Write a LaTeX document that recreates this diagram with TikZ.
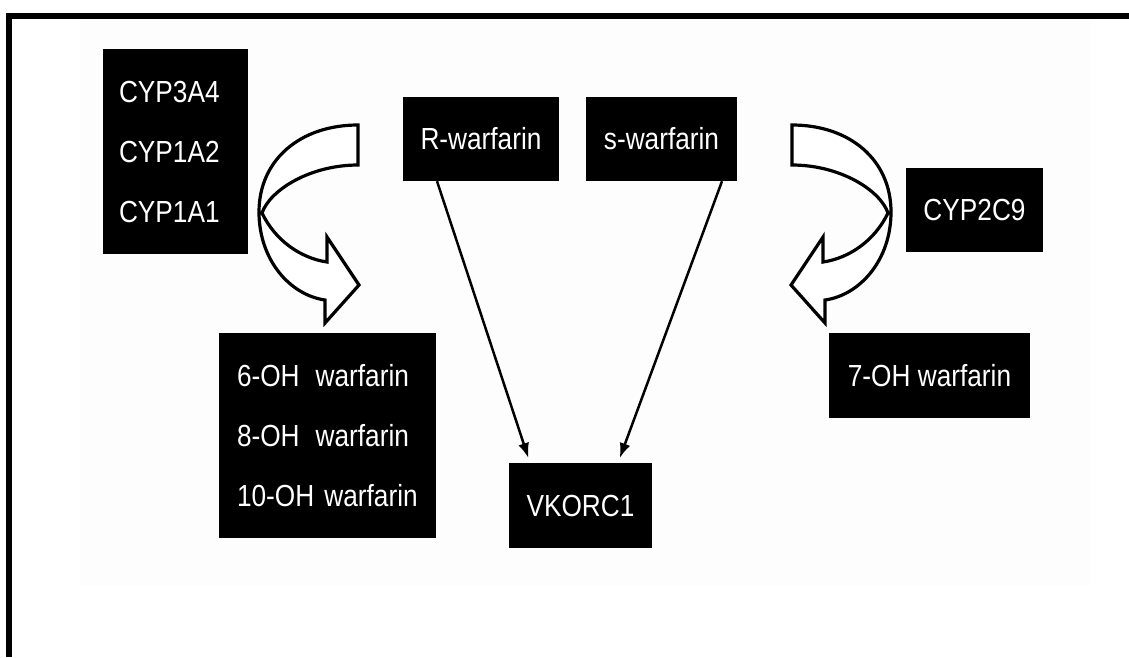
\documentclass[tikz,border=0pt]{standalone}
\usepackage{fontspec}
\setmainfont[FakeStretch=0.86]{Liberation Sans}
\usetikzlibrary{arrows.meta}
\begin{document}
\begin{tikzpicture}[x=1pt,y=-1pt,
  blackbox/.style={fill=black,text=white,inner sep=0pt,align=left,
    font=\fontsize{30.5}{60}\selectfont},
  conn/.style={line width=2.5pt,-{Latex[length=15pt,width=11pt]},shorten >=5pt},
  turnarrow/.style={draw=black,fill=white,line width=3.2pt,line join=miter}
]
\useasboundingbox (0,0) rectangle (1129,657);
\fill[white] (0,0) rectangle (1129,657);
% faint background panel
\fill[black!0.6] (80,19) rectangle (1090,585);
% frame (top and left only)
\fill[black] (6,13) rectangle (1129,19);
\fill[black] (6,13) rectangle (12,657);

% boxes
\node[blackbox,minimum width=145pt,minimum height=205pt,inner xsep=16pt,text width=113pt] (cyp) at (175.5,151.5)
  {CYP3A4\\CYP1A2\\CYP1A1};
\node[blackbox,minimum width=156pt,minimum height=84pt] (R) at (481,139) {R-warfarin};
\node[blackbox,minimum width=151pt,minimum height=84pt] (S) at (661.5,139) {s-warfarin};
\node[blackbox,minimum width=137pt,minimum height=84pt] (c29) at (974.5,210) {CYP2C9};
\node[blackbox,minimum width=201pt,minimum height=85pt] (oh7) at (929.5,375.5) {7-OH warfarin};
\node[blackbox,minimum width=217pt,minimum height=205pt,inner xsep=18pt,text width=181pt] (oh) at (327.5,435.5)
  {6-OH\hspace{16pt}warfarin\\8-OH\hspace{16pt}warfarin\\10-OH warfarin};
\node[blackbox,minimum width=143pt,minimum height=85pt] (vk) at (580.5,505.5) {VKORC1};

% connectors
\draw[conn] ([xshift=-44pt]R.south) -- ([xshift=-50.5pt]vk.north);
\draw[conn] ([xshift=60.5pt]S.south) -- ([xshift=37.5pt]vk.north);

% curved block arrows
\def\turnpath{(358,125) -- (358,165) .. controls (310,165) and (270,190) .. (262,213)
  .. controls (275,240) and (300,258) .. (327,262) -- (327,237) -- (359,285)
  -- (325,323) -- (325,300) .. controls (290,295) and (259,260) .. (259,212)
  .. controls (259,160) and (300,125) .. (358,125) -- cycle}
\draw[turnarrow] \turnpath;
\begin{scope}[shift={(1150,0)},xscale=-1]
\draw[turnarrow] \turnpath;
\end{scope}
\end{tikzpicture}
\end{document}
